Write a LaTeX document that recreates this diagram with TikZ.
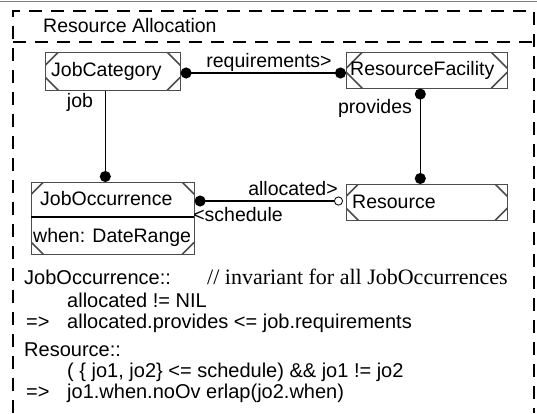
\documentclass[tikz,border=0pt]{standalone}
\usepackage{fontspec}
\setmainfont{Liberation Sans}
\newfontfamily\timesf{Liberation Serif}
\usetikzlibrary{arrows.meta}
\tikzset{
  x=1pt, y=-1pt,
  every node/.style={font=\fontsize{19.5}{22}\selectfont, inner sep=0pt},
  cls/.style={draw=black!70, line width=0.6pt, rectangle, anchor=north west,
    path picture={
      \draw[line width=1.6pt]
        ([yshift=-#1]path picture bounding box.north west) -- ([xshift=#1]path picture bounding box.north west)
        ([xshift=-#1]path picture bounding box.north east) -- ([yshift=-#1]path picture bounding box.north east)
        ([yshift=#1]path picture bounding box.south west) -- ([xshift=#1]path picture bounding box.south west)
        ([xshift=-#1]path picture bounding box.south east) -- ([yshift=#1]path picture bounding box.south east);
    }},
  clstext/.style={anchor=west},
  lbl/.style={},
  code/.style={anchor=west, font=\fontsize{20}{22}\selectfont},
  conn/.style={line width=1.6pt},
  fdot/.tip={Circle[length=11pt]},
  odot/.tip={Circle[open, length=9pt, line width=0.8pt]},
  frame/.style={line width=1.8pt, dash pattern=on 13pt off 9pt},
}
\begin{document}
\begin{tikzpicture}
\useasboundingbox (0,0) rectangle (537,413);
\draw[black!50, line width=0.8pt] (0,1) -- (537,1);
% package frame
\draw[frame] (13,413) -- (13,11) -- (534,11) -- (534,413);
\draw[frame] (13,42) -- (534,42);
\node[anchor=west] (title) at (43,26) {Resource Allocation};

% classes
\node[cls=13pt, minimum width=135pt, minimum height=38pt] (jc) at (45,52) {};
\node[clstext] (jct) at (51,71) {JobCategory};
\node[cls=16pt, minimum width=161pt, minimum height=36pt] (rf) at (346,52) {};
\node[clstext] (rft) at (350,70) {ResourceFacility};
\node[cls=12pt, minimum width=163pt, minimum height=72pt] (jo) at (31,182) {};
\draw[line width=1.4pt] (31,217) coordinate (jodl) -- (194,217) coordinate (jodr);
\node[clstext] (jot) at (40,199) {JobOccurrence};
\node[clstext] (jow) at (33,237) {when: DateRange};
\node[cls=12pt, minimum width=161pt, minimum height=36pt] (res) at (346,184) {};
\node[clstext] (rest) at (352,202) {Resource};

% connectors
\draw[conn, {fdot}-{fdot}] (jc.east |- 0,73) -- (rf.west |- 0,73);
\node[lbl] (lreq) at (269,62) {requirements>};
\draw[conn, -{fdot}] ([xshift=-7.5pt]jc.south) -- ([xshift=-7.5pt]jo.north);
\node[lbl] (ljob) at (80,102) {job};
\draw[conn, {fdot}-{fdot}] ([xshift=-6.5pt]rf.south) -- ([xshift=-6.5pt]res.north);
\node[lbl] (lprov) at (375,108) {provides};
\draw[conn, {fdot}-{odot}, shorten >=3pt] (jo.east |- 0,201) -- (res.west |- 0,201);
\node[lbl] (lalloc) at (293,189) {allocated>};
\node[lbl] (lsched) at (238,215) {<schedule};

% constraints
\node[code] (c1) at (24,277) {JobOccurrence::};
\node[anchor=west, font=\timesf\fontsize{22}{24}\selectfont] (c1b) at (207,277) {// invariant for all JobOccurrences};
\node[code] (c2) at (67,300) {allocated != NIL};
\node[code] (c3a) at (26,323) {=>};
\node[code] (c3) at (67,323) {allocated.provides <= job.requirements};
\node[code] (c4) at (24,350) {Resource::};
\node[code] (c5) at (67,372) {( \{ jo1, jo2\} <= schedule) \&\& jo1 != jo2};
\node[code] (c6a) at (26,393) {=>};
\node[code] (c6) at (67,393) {jo1.when.noOv erlap(jo2.when)};
\end{tikzpicture}
\end{document}
